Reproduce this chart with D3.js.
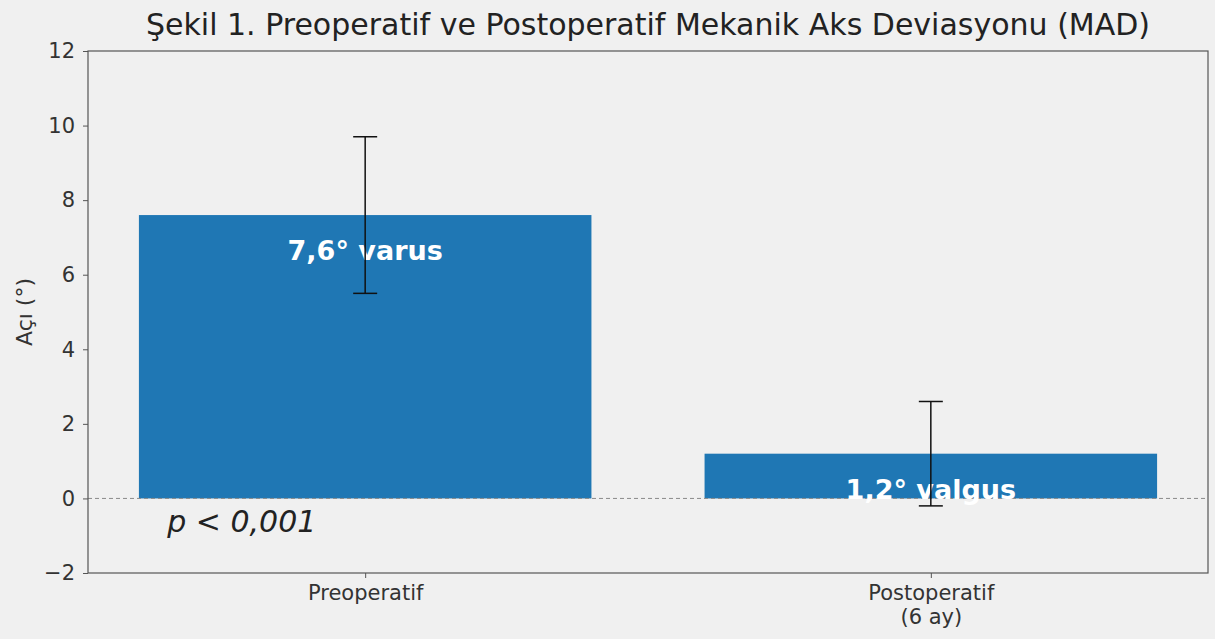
<!DOCTYPE html>
<html>
<head>
<meta charset="utf-8">
<script src="https://cdn.jsdelivr.net/npm/d3@7"></script>
<style>
  body { margin: 0; background: #f0f0f0; }
  svg { display: block; font-family: "DejaVu Sans", sans-serif; }
</style>
</head>
<body>
<div id="chart"></div>
<script>
// data
const categories = ["Preoperatif", "Postoperatif\n(6 ay)"];
const means = [7.6, 1.2];
const errors = [2.1, 1.4];
const barLabels = ["7,6° varus", "1,2° valgus"];
const yTicks = [-2, 0, 2, 4, 6, 8, 10, 12];
const titleText = "Şekil 1. Preoperatif ve Postoperatif Mekanik Aks Deviasyonu (MAD)";

const width = 1215, height = 639;
const margin = {top: 51, right: 7, bottom: 66, left: 88};

const svg = d3.select("#chart").append("svg")
    .attr("width", width)
    .attr("height", height);

svg.append("rect").attr("width", width).attr("height", height).attr("fill", "#f0f0f0");

// x in category index units, like matplotlib (-0.49 .. 1.49)
const x = d3.scaleLinear()
    .domain([-0.49, 1.49])
    .range([margin.left, width - margin.right]);

const y = d3.scaleLinear()
    .domain([-2, 12])
    .range([height - margin.bottom, margin.top]);

const barW = 0.8;

// bars
svg.selectAll("rect.bar")
    .data(means)
    .enter().append("rect")
    .attr("class", "bar")
    .attr("x", (d, i) => x(i - barW / 2))
    .attr("width", x(barW) - x(0))
    .attr("y", d => y(Math.max(d, 0)))
    .attr("height", d => Math.abs(y(d) - y(0)))
    .attr("fill", "#1f77b4");

// zero line
svg.append("line")
    .attr("x1", x(-0.49)).attr("x2", x(1.49))
    .attr("y1", y(0)).attr("y2", y(0))
    .attr("stroke", "#8a8a8a")
    .attr("stroke-width", 1)
    .attr("stroke-dasharray", "4,3");

// labels in bars
svg.selectAll("text.barlabel")
    .data(barLabels)
    .enter().append("text")
    .attr("class", "barlabel")
    .attr("x", (d, i) => x(i))
    .attr("y", (d, i) => y(means[i] - 1))
    .attr("dy", "0.3em")
    .attr("text-anchor", "middle")
    .attr("fill", "white")
    .attr("font-weight", "bold")
    .attr("font-size", 27)
    .text(d => d);

// error bars
const capHalf = 12;
const eb = svg.selectAll("g.err")
    .data(means)
    .enter().append("g")
    .attr("class", "err")
    .attr("stroke", "#111")
    .attr("stroke-width", 1.5);
eb.append("line")
    .attr("x1", (d, i) => x(i)).attr("x2", (d, i) => x(i))
    .attr("y1", (d, i) => y(d - errors[i])).attr("y2", (d, i) => y(d + errors[i]));
eb.append("line")
    .attr("x1", (d, i) => x(i) - capHalf).attr("x2", (d, i) => x(i) + capHalf)
    .attr("y1", (d, i) => y(d + errors[i])).attr("y2", (d, i) => y(d + errors[i]));
eb.append("line")
    .attr("x1", (d, i) => x(i) - capHalf).attr("x2", (d, i) => x(i) + capHalf)
    .attr("y1", (d, i) => y(d - errors[i])).attr("y2", (d, i) => y(d - errors[i]));

// p value
svg.append("text")
    .attr("x", x(-0.35))
    .attr("y", y(-0.65))
    .attr("dy", "0.3em")
    .attr("font-style", "italic")
    .attr("font-size", 30)
    .attr("fill", "#222")
    .text("p < 0,001");

// axes frame
svg.append("rect")
    .attr("x", margin.left).attr("y", margin.top)
    .attr("width", width - margin.left - margin.right)
    .attr("height", height - margin.top - margin.bottom)
    .attr("fill", "none")
    .attr("stroke", "#555")
    .attr("stroke-width", 1.2);

// y axis
const yAxis = svg.append("g")
    .attr("transform", `translate(${margin.left},0)`)
    .call(d3.axisLeft(y).tickValues(yTicks).tickSize(5).tickPadding(8)
        .tickFormat(d => d < 0 ? "\u2212" + Math.abs(d) : d));
yAxis.select(".domain").remove();
yAxis.selectAll("line").attr("stroke", "#555");
yAxis.selectAll("text").attr("font-size", 21).attr("fill", "#333")
    .attr("font-family", "DejaVu Sans, sans-serif");

// x axis
const xAxis = svg.append("g")
    .attr("transform", `translate(0,${height - margin.bottom})`)
    .call(d3.axisBottom(x).tickValues([0, 1]).tickSize(5).tickPadding(4).tickFormat(""));
xAxis.select(".domain").remove();
xAxis.selectAll("line").attr("stroke", "#555");
xAxis.selectAll(".tick").each(function(d) {
    const lines = categories[d].split("\n");
    const t = d3.select(this).append("text")
        .attr("fill", "#333")
        .attr("font-size", 21)
        .attr("text-anchor", "middle")
        .attr("font-family", "DejaVu Sans, sans-serif");
    lines.forEach((s, k) => {
        t.append("tspan").attr("x", 0).attr("y", 27 + k * 24).text(s);
    });
});

// y label
svg.append("text")
    .attr("transform", `translate(32,${(margin.top + height - margin.bottom) / 2}) rotate(-90)`)
    .attr("text-anchor", "middle")
    .attr("font-size", 22)
    .attr("fill", "#333")
    .text("Açı (°)");

// title
svg.append("text")
    .attr("x", (margin.left + width - margin.right) / 2)
    .attr("y", 35)
    .attr("text-anchor", "middle")
    .attr("font-size", 30)
    .attr("fill", "#222")
    .text(titleText);
</script>
</body>
</html>
